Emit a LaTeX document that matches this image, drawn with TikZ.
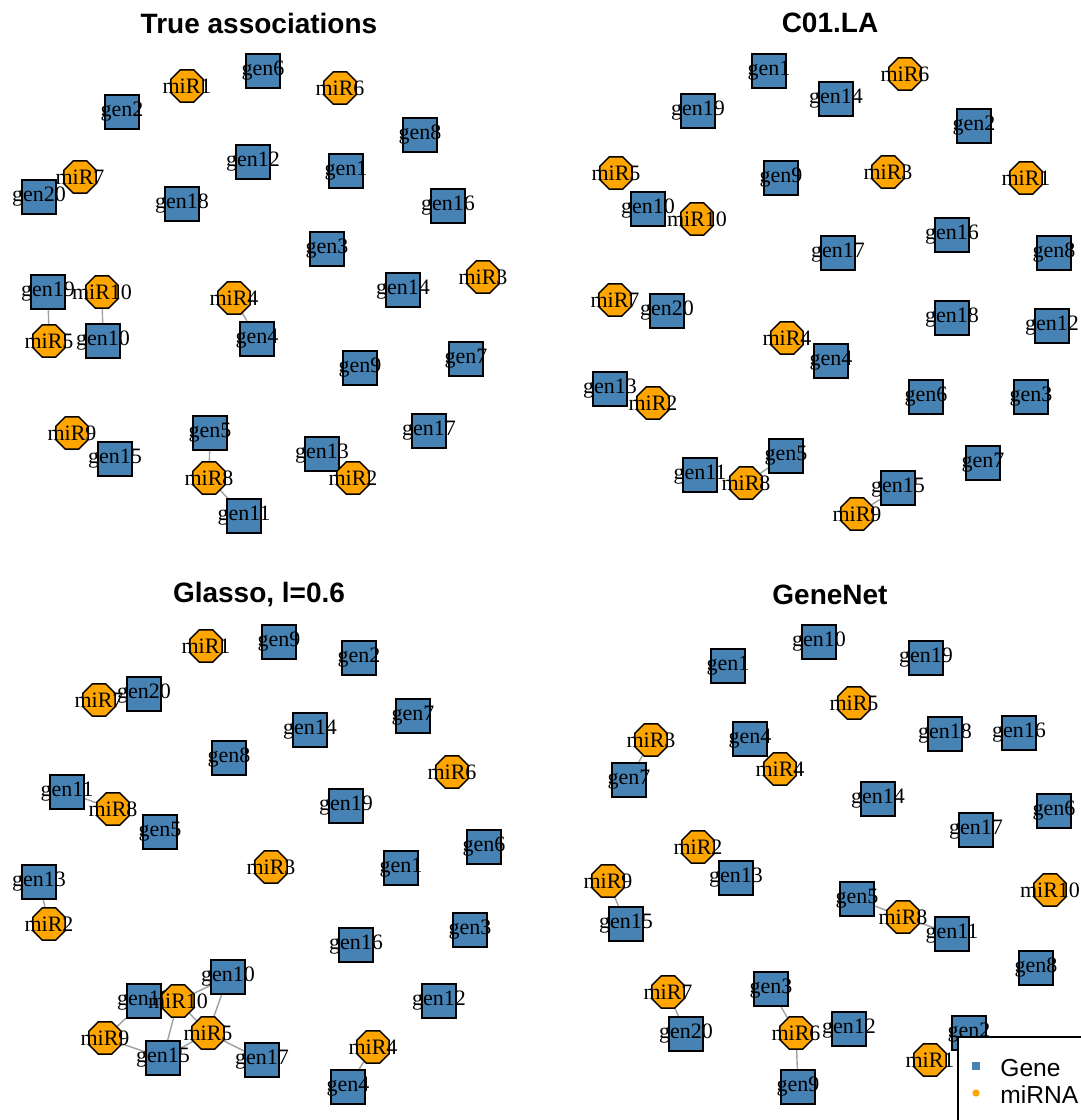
\documentclass[tikz,border=0pt]{standalone}
\usepackage{fontspec}
\setmainfont{Liberation Serif}
\setsansfont{Liberation Sans}
\usepackage{tikz}
\usetikzlibrary{shapes.geometric, backgrounds}
\definecolor{genecolor}{RGB}{70, 130, 180}
\definecolor{mirnacolor}{RGB}{255, 165, 0}
\definecolor{edgecolor}{RGB}{160, 160, 160}
\tikzset{
  vertex/.style={draw=black, line width=0.75pt, inner sep=0pt, font=\fontsize{11}{13}\selectfont,
    execute at begin node={\hbox to 0pt\bgroup\hss}, execute at end node={\hss\egroup}},
  gene/.style={vertex, rectangle, fill=genecolor, minimum size=17pt},
  mirna/.style={vertex, regular polygon, regular polygon sides=8, fill=mirnacolor, minimum size=17.5pt},
  assoc/.style={draw=edgecolor, line width=0.7pt},
  paneltitle/.style={font=\sffamily\bfseries\fontsize{14}{16}\selectfont},
  legendtext/.style={font=\sffamily\fontsize{12.3}{14}\selectfont, anchor=west, inner sep=0pt}
}

\begin{document}
\begin{tikzpicture}[x=0.5pt, y=-0.5pt]
    \useasboundingbox (0,0) rectangle (1081,1120);

    % Panel 1 - True associations
    \node[paneltitle] (t-title) at (259,23) {True associations};
    \node[gene] (t-gen6) at (263,71) {gen6};
    \node[mirna] (t-miR1) at (187,86) {miR1};
    \node[mirna] (t-miR6) at (340,88) {miR6};
    \node[gene] (t-gen2) at (122,112) {gen2};
    \node[gene] (t-gen8) at (420,135) {gen8};
    \node[gene] (t-gen12) at (253,162) {gen12};
    \node[gene] (t-gen1) at (346,171) {gen1};
    \node[mirna] (t-miR7) at (80,177) {miR7};
    \node[gene] (t-gen20) at (39,197) {gen20};
    \node[gene] (t-gen18) at (182,204) {gen18};
    \node[gene] (t-gen16) at (448,206) {gen16};
    \node[gene] (t-gen3) at (327,249) {gen3};
    \node[gene] (t-gen19) at (48,292) {gen19};
    \node[mirna] (t-miR10) at (102,292) {miR10};
    \node[mirna] (t-miR5) at (49,341) {miR5};
    \node[gene] (t-gen10) at (103,341) {gen10};
    \node[mirna] (t-miR4) at (234,298) {miR4};
    \node[gene] (t-gen4) at (257,339) {gen4};
    \node[gene] (t-gen14) at (403,290) {gen14};
    \node[mirna] (t-miR3) at (483,277) {miR3};
    \node[gene] (t-gen7) at (466,359) {gen7};
    \node[gene] (t-gen9) at (360,368) {gen9};
    \node[mirna] (t-miR9) at (72,433) {miR9};
    \node[gene] (t-gen15) at (115,459) {gen15};
    \node[gene] (t-gen5) at (210,433) {gen5};
    \node[mirna] (t-miR8) at (209,478) {miR8};
    \node[gene] (t-gen11) at (244,516) {gen11};
    \node[gene] (t-gen13) at (322,454) {gen13};
    \node[mirna] (t-miR2) at (353,478) {miR2};
    \node[gene] (t-gen17) at (429,431) {gen17};
    \begin{scope}[on background layer]
        \draw[assoc] (t-gen19) -- (t-miR5);
        \draw[assoc] (t-miR10) -- (t-gen10);
        \draw[assoc] (t-miR4) -- (t-gen4);
        \draw[assoc] (t-gen5) -- (t-miR8);
        \draw[assoc] (t-miR8) -- (t-gen11);
    \end{scope}

    % Panel 2 - C01.LA
    \node[paneltitle] (c-title) at (830,23) {C01.LA};
    \node[gene] (c-gen1) at (769,71) {gen1};
    \node[mirna] (c-miR6) at (905,74) {miR6};
    \node[gene] (c-gen14) at (836,99) {gen14};
    \node[gene] (c-gen19) at (698,111) {gen19};
    \node[gene] (c-gen2) at (974,126) {gen2};
    \node[mirna] (c-miR5) at (616,173) {miR5};
    \node[gene] (c-gen9) at (781,178) {gen9};
    \node[mirna] (c-miR3) at (888,172) {miR3};
    \node[mirna] (c-miR1) at (1026,178) {miR1};
    \node[gene] (c-gen10) at (648,209) {gen10};
    \node[mirna] (c-miR10) at (697,219) {miR10};
    \node[gene] (c-gen16) at (952,235) {gen16};
    \node[gene] (c-gen17) at (838,253) {gen17};
    \node[gene] (c-gen8) at (1054,253) {gen8};
    \node[mirna] (c-miR7) at (615,300) {miR7};
    \node[gene] (c-gen20) at (667,311) {gen20};
    \node[gene] (c-gen18) at (952,318) {gen18};
    \node[gene] (c-gen12) at (1052,326) {gen12};
    \node[mirna] (c-miR4) at (787,338) {miR4};
    \node[gene] (c-gen4) at (831,361) {gen4};
    \node[gene] (c-gen13) at (610,389) {gen13};
    \node[mirna] (c-miR2) at (653,403) {miR2};
    \node[gene] (c-gen6) at (926,397) {gen6};
    \node[gene] (c-gen3) at (1031,397) {gen3};
    \node[gene] (c-gen5) at (786,456) {gen5};
    \node[gene] (c-gen11) at (700,475) {gen11};
    \node[mirna] (c-miR8) at (746,483) {miR8};
    \node[gene] (c-gen7) at (983,463) {gen7};
    \node[gene] (c-gen15) at (898,488) {gen15};
    \node[mirna] (c-miR9) at (857,514) {miR9};
    \begin{scope}[on background layer]
        \draw[assoc] (c-gen5) -- (c-miR8);
        \draw[assoc] (c-gen15) -- (c-miR9);
    \end{scope}

    % Panel 3 - Glasso
    \node[paneltitle] (g-title) at (259,595) {Glasso, l=0.6};
    \node[mirna] (g-miR1) at (206,646) {miR1};
    \node[gene] (g-gen9) at (279,642) {gen9};
    \node[gene] (g-gen2) at (359,658) {gen2};
    \node[mirna] (g-miR7) at (99,700) {miR7};
    \node[gene] (g-gen20) at (144,694) {gen20};
    \node[gene] (g-gen7) at (413,716) {gen7};
    \node[gene] (g-gen14) at (310,730) {gen14};
    \node[gene] (g-gen8) at (229,758) {gen8};
    \node[mirna] (g-miR6) at (452,772) {miR6};
    \node[gene] (g-gen11) at (67,792) {gen11};
    \node[mirna] (g-miR8) at (113,809) {miR8};
    \node[gene] (g-gen19) at (346,806) {gen19};
    \node[gene] (g-gen5) at (160,832) {gen5};
    \node[gene] (g-gen6) at (484,847) {gen6};
    \node[mirna] (g-miR3) at (271,867) {miR3};
    \node[gene] (g-gen1) at (401,868) {gen1};
    \node[gene] (g-gen13) at (39,882) {gen13};
    \node[mirna] (g-miR2) at (49,924) {miR2};
    \node[gene] (g-gen3) at (470,930) {gen3};
    \node[gene] (g-gen16) at (356,945) {gen16};
    \node[gene] (g-gen10) at (228,977) {gen10};
    \node[gene] (g-gen18) at (144,1001) {gen18};
    \node[mirna] (g-miR10) at (178,1001) {miR10};
    \node[gene] (g-gen12) at (439,1001) {gen12};
    \node[mirna] (g-miR9) at (105,1038) {miR9};
    \node[mirna] (g-miR5) at (208,1033) {miR5};
    \node[gene] (g-gen15) at (163,1058) {gen15};
    \node[gene] (g-gen17) at (262,1060) {gen17};
    \node[mirna] (g-miR4) at (373,1047) {miR4};
    \node[gene] (g-gen4) at (348,1087) {gen4};
    \begin{scope}[on background layer]
        \draw[assoc] (g-gen11) -- (g-miR8);
        \draw[assoc] (g-gen13) -- (g-miR2);
        \draw[assoc] (g-miR4) -- (g-gen4);
        \draw[assoc] (g-gen18) -- (g-miR9);
        \draw[assoc] (g-miR9) -- (g-gen15);
        \draw[assoc] (g-miR10) -- (g-gen15);
        \draw[assoc] (g-miR10) -- (g-miR5);
        \draw[assoc] (g-gen10) -- (g-miR10);
        \draw[assoc] (g-gen10) -- (g-miR5);
        \draw[assoc] (g-miR5) -- (g-gen15);
        \draw[assoc] (g-miR5) -- (g-gen17);
    \end{scope}

    % Panel 4 - GeneNet
    \node[paneltitle] (n-title) at (830,595) {GeneNet};
    \node[gene] (n-gen10) at (819,642) {gen10};
    \node[gene] (n-gen1) at (728,666) {gen1};
    \node[gene] (n-gen19) at (926,658) {gen19};
    \node[mirna] (n-miR5) at (854,703) {miR5};
    \node[gene] (n-gen18) at (945,734) {gen18};
    \node[gene] (n-gen16) at (1019,733) {gen16};
    \node[mirna] (n-miR3) at (651,740) {miR3};
    \node[gene] (n-gen4) at (750,739) {gen4};
    \node[mirna] (n-miR4) at (780,769) {miR4};
    \node[gene] (n-gen7) at (629,780) {gen7};
    \node[gene] (n-gen14) at (878,799) {gen14};
    \node[gene] (n-gen6) at (1054,811) {gen6};
    \node[gene] (n-gen17) at (976,830) {gen17};
    \node[mirna] (n-miR2) at (698,847) {miR2};
    \node[gene] (n-gen13) at (736,878) {gen13};
    \node[mirna] (n-miR9) at (608,881) {miR9};
    \node[gene] (n-gen15) at (626,924) {gen15};
    \node[gene] (n-gen5) at (857,899) {gen5};
    \node[mirna] (n-miR8) at (903,917) {miR8};
    \node[gene] (n-gen11) at (952,934) {gen11};
    \node[mirna] (n-miR10) at (1050,890) {miR10};
    \node[gene] (n-gen8) at (1036,968) {gen8};
    \node[mirna] (n-miR7) at (668,992) {miR7};
    \node[gene] (n-gen3) at (771,989) {gen3};
    \node[gene] (n-gen20) at (686,1034) {gen20};
    \node[mirna] (n-miR6) at (796,1033) {miR6};
    \node[gene] (n-gen12) at (849,1029) {gen12};
    \node[gene] (n-gen9) at (798,1087) {gen9};
    \node[gene] (n-gen2) at (969,1033) {gen2};
    \node[mirna] (n-miR1) at (930,1060) {miR1};
    \begin{scope}[on background layer]
        \draw[assoc] (n-miR3) -- (n-gen7);
        \draw[assoc] (n-miR9) -- (n-gen15);
        \draw[assoc] (n-gen5) -- (n-miR8);
        \draw[assoc] (n-miR8) -- (n-gen11);
        \draw[assoc] (n-miR7) -- (n-gen20);
        \draw[assoc] (n-gen3) -- (n-miR6);
        \draw[assoc] (n-miR6) -- (n-gen9);
    \end{scope}

    % Legend
    \draw[fill=white, line width=1pt] (958,1037) rectangle (1100,1140);
    \node[fill=genecolor, minimum size=3.8pt, inner sep=0pt] (key-gene) at (976,1066) {};
    \node[legendtext] (key-gene-text) at (1000,1068) {Gene};
    \node[circle, fill=mirnacolor, minimum size=3.6pt, inner sep=0pt] (key-mirna) at (976,1093) {};
    \node[legendtext] (key-mirna-text) at (1000,1095) {miRNA};
\end{tikzpicture}
\end{document}
